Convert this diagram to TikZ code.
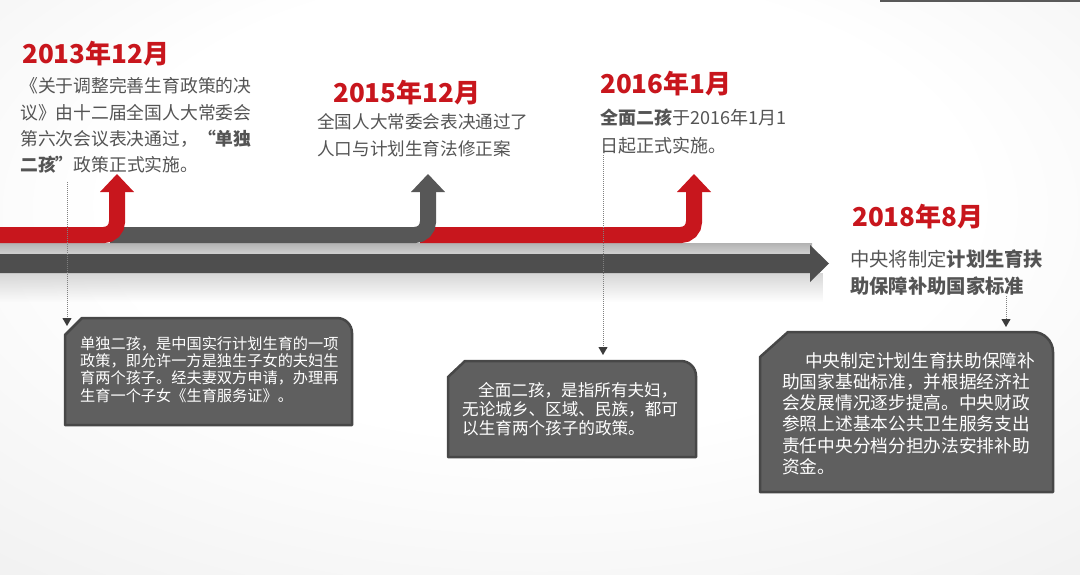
\documentclass[tikz,border=0pt]{standalone}
\usepackage{fontspec}
\setmainfont{Noto Sans CJK SC}
\usetikzlibrary{arrows.meta,fadings}
\definecolor{cred}{HTML}{C8161D}
\definecolor{clane}{HTML}{575757}
\definecolor{cmain}{HTML}{4E4E4E}
\definecolor{ctext}{HTML}{545454}
\definecolor{cbox}{HTML}{5F5F5F}
\definecolor{cboxline}{HTML}{474747}
\definecolor{ctip}{HTML}{3C3C3C}
\pgfdeclareradialshading{bgshade}{\pgfpoint{0bp}{10bp}}{color(0bp)=(white); color(20bp)=(white); color(45bp)=(black!7); color(72bp)=(black!11)}
\tikzset{
  lane/.style={line width=16pt, rounded corners=13pt},
  titletext/.style={anchor=base west, inner sep=0pt, text=cred, font=\fontsize{26}{30}\selectfont\bfseries},
  bodytext/.style={anchor=north west, inner sep=0pt, text=ctext, align=left},
  boxtext/.style={anchor=north west, inner sep=0pt, text=white, align=left},
  infobox/.style={fill=cbox, draw=cboxline, line width=2.5pt, line join=round},
  dotline/.style={draw=black!50, line width=0.9pt, dash pattern=on 0.9pt off 1.1pt,
    -{Triangle[width=9pt,length=8pt,color=ctip,fill=ctip]}}
}
\begin{document}
\begin{tikzpicture}[x=1pt,y=-1pt]
\useasboundingbox (0,0) rectangle (1080,574);
\shade[shading=bgshade] (0,0) rectangle (1080,574);
\draw[line width=2pt, black!65] (880,0.8) -- (1080,0.8);

% soft shadows
\shade[top color=black!30, bottom color=black!18] (0,243) rectangle (812,254);
\fill[black!16, path fading=south] (0,273) rectangle (825,302);

% main timeline arrow
\fill[cmain] (-5,254) -- (810,254) -- (810,245) -- (829,263.5) -- (810,282) -- (810,273) -- (-5,273) -- cycle;

% lanes
\draw[lane, cred] (420,235) -- (694,235) -- (694,191);
\fill[cred] (677,192) -- (694,174) -- (711,192) -- cycle;
\draw[lane, clane] (110,235) -- (428,235) -- (428,191);
\fill[clane] (411,192) -- (428,174) -- (445,192) -- cycle;
\draw[lane, cred] (-5,235) -- (117,235) -- (117,191);
\fill[cred] (100,192) -- (117,174) -- (134,192) -- cycle;

% titles
\node[titletext] (y13) at (22,63) {2013年12月};
\node[titletext] (y15) at (333,102) {2015年12月};
\node[titletext] (y16) at (600,93) {2016年1月};
\node[titletext] (y18) at (852,226) {2018年8月};

% body texts
\node[bodytext, font=\fontsize{17.8}{26.3}\selectfont] (b13) at (20,77.6)
  {《关于调整完善生育政策的决\\议》由十二届全国人大常委会\\第六次会议表决通过，\textbf{“单独}\\\textbf{二孩”}政策正式实施。};
\node[bodytext, font=\fontsize{17.6}{27}\selectfont] (b15) at (317,113.7)
  {全国人大常委会表决通过了\\人口与计划生育法修正案};
\node[bodytext, font=\fontsize{18}{28}\selectfont] (b16) at (600,108.5)
  {\textbf{全面二孩}于2016年1月1\\日起正式实施。};
\node[bodytext, font=\fontsize{19.3}{27}\selectfont] (b18) at (850,249)
  {中央将制定\textbf{计划生育扶}\\\textbf{助保障补助国家标准}};

% info boxes
\path[infobox] (65,335) -- (82,318) -- (337,318) .. controls (345.3,318) and (352,324.7) .. (352,333) -- (352,425) -- (65,425) -- cycle;
\path[infobox] (448,377) -- (465,361) -- (681,361) .. controls (689.3,361) and (696,367.7) .. (696,376) -- (696,457) -- (448,457) -- cycle;
\path[infobox] (760,357) -- (788,332) -- (1033,332) .. controls (1044,332) and (1053,341) .. (1053,352) -- (1053,492) -- (760,492) -- cycle;

\node[boxtext, font=\fontsize{15.2}{17.4}\selectfont] (x1) at (80,336)
  {单独二孩，是中国实行计划生育的一项\\政策，即允许一方是独生子女的夫妇生\\育两个孩子。经夫妻双方申请，办理再\\生育一个子女《生育服务证》。};
\node[boxtext, font=\fontsize{16.6}{19}\selectfont] (x2) at (462,382)
  {\hspace*{16pt}全面二孩，是指所有夫妇，\\无论城乡、区域、民族，都可\\以生育两个孩子的政策。};
\node[boxtext, font=\fontsize{17.7}{21.2}\selectfont] (x3) at (782,352.2)
  {\hspace*{23pt}中央制定计划生育扶助保障补\\助国家基础标准，并根据经济社\\会发展情况逐步提高。中央财政\\参照上述基本公共卫生服务支出\\责任中央分档分担办法安排补助\\资金。};

% dotted pointers
\coordinate (d1s) at (67,182);
\coordinate (d1e) at (67,326);
\coordinate (d2s) at (603,155);
\coordinate (d2e) at (603,355);
\coordinate (d3s) at (1006,296);
\coordinate (d3e) at (1006,327);
\draw[dotline] (d1s) -- (d1e);
\draw[dotline] (d2s) -- (d2e);
\draw[dotline] (d3s) -- (d3e);
\end{tikzpicture}
\end{document}
